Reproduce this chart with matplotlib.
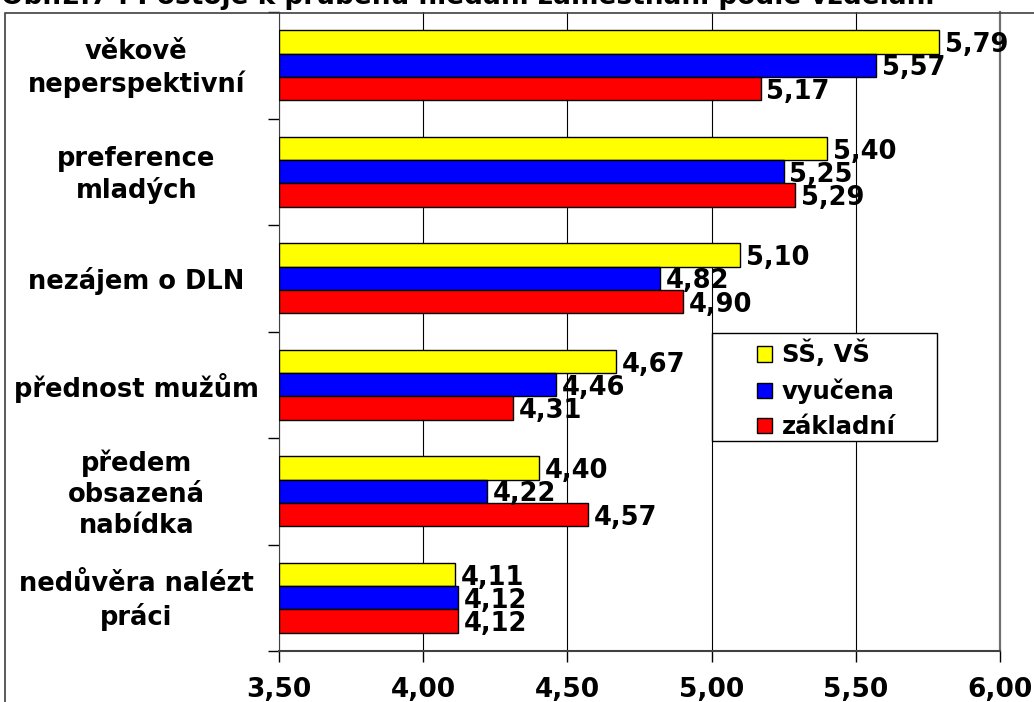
import matplotlib.pyplot as plt
import numpy as np
from matplotlib.patches import Rectangle

categories = [
    "věkově\nneperspektivní",
    "preference\nmladých",
    "nezájem o DLN",
    "přednost mužům",
    "předem\nobsazená\nnabídka",
    "nedůvěra nalézt\npráci",
]
series_names = ["SŠ, VŠ", "vyučena", "základní"]
ss_vs = [5.79, 5.40, 5.10, 4.67, 4.40, 4.11]
vyucena = [5.57, 5.25, 4.82, 4.46, 4.22, 4.12]
zakladni = [5.17, 5.29, 4.90, 4.31, 4.57, 4.12]
xticks = [3.5, 4.0, 4.5, 5.0, 5.5, 6.0]

colors = ["#ffff00", "#0000ff", "#ff0000"]
plt.rcParams["font.family"] = ["DejaVu Sans"]
plt.rcParams["font.weight"] = "bold"

W, H = 1034, 702
fig = plt.figure(figsize=(W / 100, H / 100), dpi=100)
ax = fig.add_axes([279 / W, 51 / H, 721 / W, 639 / H])

# outer frame and title (cut off at the top like the source)
fig.patches.append(Rectangle((5 / W, -0.1), 1.1, 1 - 12.5 / H + 0.1,
                             transform=fig.transFigure, fill=False,
                             edgecolor="#404040", linewidth=1.2))
fig.text(1 / W, 1 - 4 / H, "Obr.2.7 : Postoje k průběhu hledání zaměstnání podle vzdělání",
         fontsize=19, fontweight="bold", va="baseline", ha="left")

y = np.arange(len(categories))
h = 0.22
for i, vals in enumerate([ss_vs, vyucena, zakladni]):
    pos = y + (i - 1) * h
    ax.barh(pos, np.array(vals) - 3.5, left=3.5, height=h, color=colors[i],
            edgecolor="black", linewidth=1, label=series_names[i], zorder=3)
    for p, v in zip(pos, vals):
        ax.text(v + 0.02, p + 0.03, f"{v:.2f}".replace(".", ","), fontsize=18.5,
                fontweight="bold", va="center", ha="left", zorder=4)

ax.set_xlim(3.5, 6.0)
ax.set_ylim(len(categories) - 0.5, -0.5)
ax.set_xticks(xticks)
ax.set_xticklabels([f"{t:.2f}".replace(".", ",") for t in xticks], fontsize=19, fontweight="bold")
ax.tick_params(axis="x", length=8, width=1, pad=11)
ax.set_yticks(np.arange(-0.5, len(categories), 1.0))
ax.set_yticklabels([])
ax.tick_params(axis="y", length=8, width=1)
ax.grid(axis="x", color="black", linewidth=0.8, zorder=0)
last = ax.get_xgridlines()[-1]
last.set_clip_on(False)
last.set_color("#707070")
last.set_linewidth(1.6)
for s in ["top", "right"]:
    ax.spines[s].set_visible(False)
ax.spines["bottom"].set_linewidth(1.5)
ax.spines["bottom"].set_color("#404040")
ax.spines["left"].set_color("#404040")

for yi, cat in zip(y, categories):
    ax.text(-0.198, yi + 0.03, cat, transform=ax.get_yaxis_transform(), ha="center", va="center",
            fontsize=18.5, fontweight="bold", linespacing=1.25)

# legend box drawn separately: the source has wide side padding
fig.patches.append(Rectangle((712 / W, 1 - 441 / H), 225 / W, 108 / H,
                             transform=fig.transFigure, facecolor="white",
                             edgecolor="black", linewidth=1, zorder=5))
leg = fig.legend(*ax.get_legend_handles_labels(), loc="upper left",
                 bbox_to_anchor=(757 / W, 1 - 340 / H), frameon=False,
                 handlelength=0.6, handleheight=0.6, handletextpad=0.42, borderpad=0,
                 labelspacing=0.45, borderaxespad=0, prop={"weight": "bold", "size": 17.5})
leg.set_zorder(6)

fig.savefig("out.png", dpi=100)
